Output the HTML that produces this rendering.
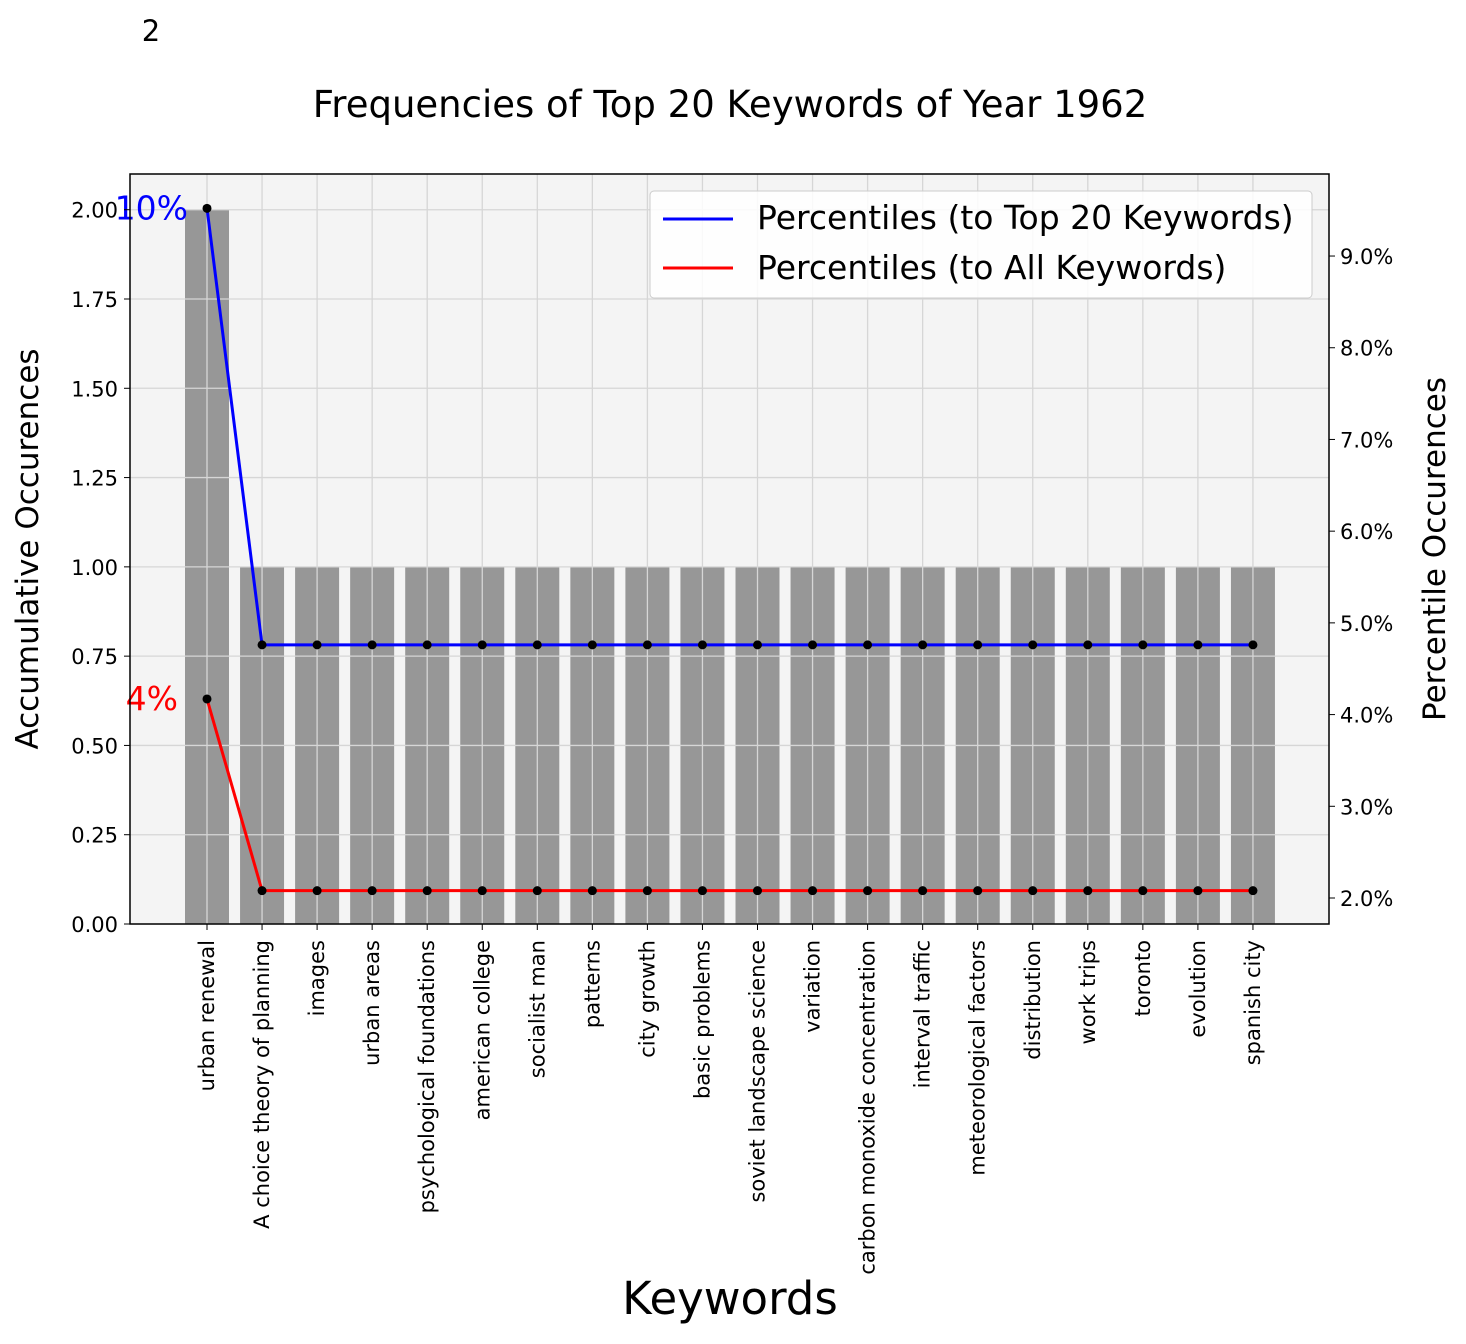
<!DOCTYPE html>
<html><head><meta charset="utf-8"><style>
body{margin:0;background:#fff;}
svg text{font-family:"DejaVu Sans","Liberation Sans",sans-serif;}
</style></head><body>
<svg id="chart" width="1466" height="1339" xmlns="http://www.w3.org/2000/svg">
<text x="151" y="41" font-size="29" text-anchor="middle">2</text>
<text x="730" y="117" font-size="37" text-anchor="middle">Frequencies of Top 20 Keywords of Year 1962</text>
<rect x="130" y="174" width="1199" height="750" fill="#f4f4f4"/>
<g id="bars"></g><g id="grid"></g><g id="lines"></g>
<rect x="130" y="174" width="1199" height="750" fill="none" stroke="#000" stroke-width="1.5"/>
<g id="ticks"></g>
<text transform="translate(38,549) rotate(-90)" font-size="31" text-anchor="middle">Accumulative Occurences</text>
<text transform="translate(1445,549) rotate(-90)" font-size="31" text-anchor="middle">Percentile Occurences</text>
<text x="730" y="1314" font-size="45" text-anchor="middle">Keywords</text>
<g>
<rect x="650" y="191" width="662" height="107" rx="4" fill="#fff" fill-opacity="0.85" stroke="#ccc"/>
<line x1="663" y1="219" x2="733" y2="219" stroke="blue" stroke-width="3"/>
<text x="757" y="229" font-size="33">Percentiles (to Top 20 Keywords)</text>
<line x1="663" y1="268" x2="733" y2="268" stroke="red" stroke-width="3"/>
<text x="757" y="279" font-size="33">Percentiles (to All Keywords)</text>
</g>
</svg>
<script>
const categories=["urban renewal","A choice theory of planning","images","urban areas","psychological foundations","american college","socialist man","patterns","city growth","basic problems","soviet landscape science","variation","carbon monoxide concentration","interval traffic","meteorological factors","distribution","work trips","toronto","evolution","spanish city"];
const counts=[2,1,1,1,1,1,1,1,1,1,1,1,1,1,1,1,1,1,1,1];
const pctTop20=[9.52,4.76,4.76,4.76,4.76,4.76,4.76,4.76,4.76,4.76,4.76,4.76,4.76,4.76,4.76,4.76,4.76,4.76,4.76,4.76];
const pctAll=[4.17,2.08,2.08,2.08,2.08,2.08,2.08,2.08,2.08,2.08,2.08,2.08,2.08,2.08,2.08,2.08,2.08,2.08,2.08,2.08];
const leftTicks=[0,0.25,0.5,0.75,1.0,1.25,1.5,1.75,2.0];
const rightTicks=[2,3,4,5,6,7,8,9];
const NS="http://www.w3.org/2000/svg";
const X0=130,X1=1329,Y0=924,Y1=174;
const xs=i=>207+i*55.05;
const yL=v=>Y0-v*(Y0-Y1)/2.1;
const yR=p=>898-(p-2)*91.71;
function mk(parent,tag,attrs){const e=document.createElementNS(NS,tag);for(const k in attrs)e.setAttribute(k,attrs[k]);document.getElementById(parent).appendChild(e);return e;}
counts.forEach((c,i)=>{
 const r=mk('bars','rect',{x:xs(i)-22,y:yL(c),width:44,height:Y0-yL(c),fill:'#979797'});
 
 
 const g=mk('grid','line',{x1:xs(i),x2:xs(i),y1:Y1,y2:Y0,stroke:'#d6d6d6','stroke-width':1.3});
 
 
 const tk=mk('ticks','line',{x1:xs(i),x2:xs(i),y1:Y0,y2:Y0+6,stroke:'#000'});
 
 
 const t=mk('ticks','text',{transform:`translate(${xs(i)+7},${Y0+16}) rotate(-90)`,'font-size':21,'text-anchor':'end'});
 t.textContent=categories[i];
 
 
});
leftTicks.forEach(v=>{
 const y=yL(v);
 const g=mk('grid','line',{x1:X0,x2:X1,y1:y,y2:y,stroke:'#d6d6d6','stroke-width':1.3});
 
 
 const tk=mk('ticks','line',{x1:X0-6,x2:X0,y1:y,y2:y,stroke:'#000'});
 
 
 const t=mk('ticks','text',{x:X0-12,y:y+8,'font-size':21,'text-anchor':'end'});
 t.textContent=v.toFixed(2);
 
 
});
rightTicks.forEach(p=>{
 const y=yR(p);
 const tk=mk('ticks','line',{x1:X1,x2:X1+6,y1:y,y2:y,stroke:'#000'});
 
 
 const t=mk('ticks','text',{x:X1+11,y:y+8,'font-size':21});
 t.textContent=p.toFixed(1)+'%';
 
 
});
[[pctTop20,'blue'],[pctAll,'red']].forEach(([arr,col])=>{
 const pl=mk('lines','polyline',{points:arr.map((p,i)=>xs(i)+','+yR(p)).join(' '),fill:'none',stroke:col,'stroke-width':3});
 
 
 arr.forEach((p,i)=>{
  const c=mk('lines','circle',{cx:xs(i),cy:yR(p),r:4.5,fill:'#000'});
  
  
 });
 const lb=mk('lines','text',{x:col==='blue'?188:178,y:yR(arr[0])+11,'font-size':33,'text-anchor':'end',fill:col});
 lb.textContent=Math.round(arr[0])+'%';
 
 
});
</script>
</body></html>
